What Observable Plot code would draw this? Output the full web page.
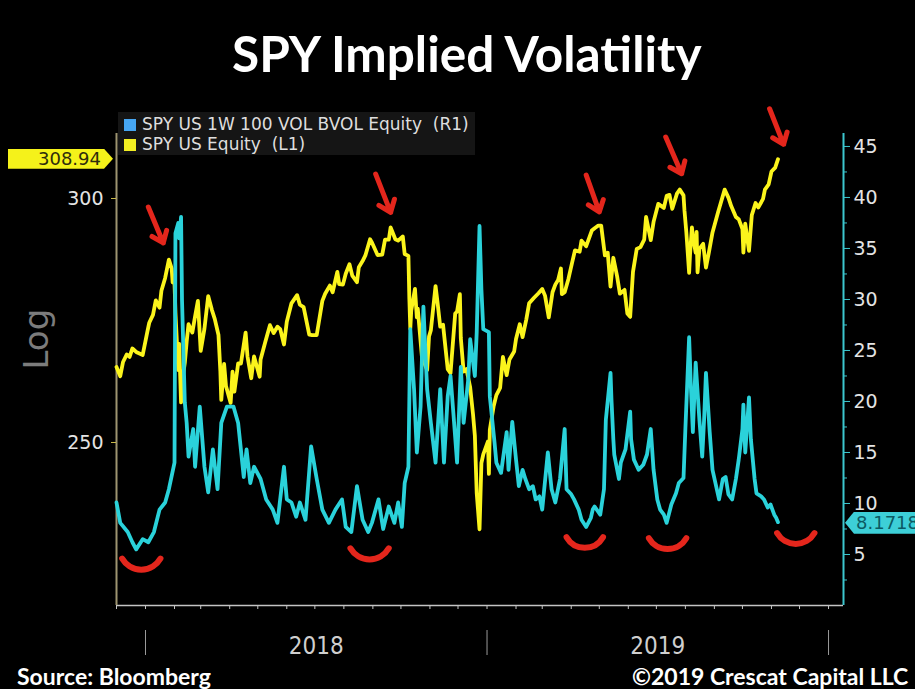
<!DOCTYPE html>
<html><head><meta charset="utf-8">
<script src="https://cdn.jsdelivr.net/npm/d3@7"></script>
<script src="https://cdn.jsdelivr.net/npm/@observablehq/plot@0.6"></script>
<style>
html,body{margin:0;padding:0;background:#000;}
#chart{position:relative;width:915px;height:689px;overflow:hidden;background:#000;}
#chart svg{position:absolute;left:0;top:0;}
.title{position:absolute;left:232px;top:29px;white-space:nowrap;font:700 49.5px Lato;color:#fff;line-height:1;}
.src{position:absolute;top:665px;white-space:nowrap;font:700 23px Lato;color:#fff;line-height:1;}
.legend{position:absolute;left:118px;top:112px;width:357px;height:43px;background:#151515;}
.legend .item{position:absolute;left:6px;height:20px;line-height:20px;font:17px "DejaVu Sans";color:#dedede;white-space:pre;}
.legend .sw{display:inline-block;width:12px;height:12px;margin-right:6px;vertical-align:-1px;}
.tag{position:absolute;font:18px "DejaVu Sans";white-space:nowrap;}
</style></head>
<body><div id="chart"></div>
<script>
// ---------- data ----------
const seriesNames = ["SPY US 1W 100 VOL BVOL Equity  (R1)", "SPY US Equity  (L1)"];
const titleText = "SPY Implied Volatility";
const sourceText = "Source: Bloomberg";
const creditText = "\u00a92019 Crescat Capital LLC";
const spyTicks = [250, 300];
const volTicks = [5, 10, 15, 20, 25, 30, 35, 40, 45];
const volMinorTicks = [2.5, 7.5, 12.5, 17.5, 22.5, 27.5, 32.5, 37.5, 42.5];
const yearLabels = [2018, 2019];

const spySeries = [
["2017-12-01",264.5],["2017-12-05",262.7],["2017-12-08",265.5],["2017-12-12",267.0],["2017-12-15",266.5],["2017-12-18",268.2],["2017-12-22",267.5],["2017-12-29",266.9],
["2018-01-03",271.6],["2018-01-05",273.4],["2018-01-09",275.0],["2018-01-12",278.0],["2018-01-16",276.5],["2018-01-18",280.0],["2018-01-22",282.7],["2018-01-26",286.6],["2018-01-29",284.7],["2018-01-30",281.8],
["2018-02-01",281.6],["2018-02-02",275.5],["2018-02-05",263.9],["2018-02-06",269.1],["2018-02-08",257.6],["2018-02-09",261.5],["2018-02-12",265.3],["2018-02-14",269.6],["2018-02-16",273.1],["2018-02-20",271.4],["2018-02-23",274.7],["2018-02-26",277.9],
["2018-03-01",267.7],["2018-03-05",272.2],["2018-03-09",278.9],["2018-03-13",276.0],["2018-03-16",274.2],["2018-03-20",270.9],["2018-03-22",263.7],["2018-03-23",258.1],["2018-03-26",265.1],["2018-03-28",260.8],
["2018-04-02",257.5],["2018-04-04",263.6],["2018-04-06",259.7],["2018-04-10",265.2],["2018-04-13",265.2],["2018-04-18",271.4],["2018-04-20",266.6],["2018-04-24",262.3],["2018-04-27",266.6],
["2018-05-03",262.6],["2018-05-04",266.0],["2018-05-09",269.5],["2018-05-14",272.9],["2018-05-18",271.3],["2018-05-22",272.6],["2018-05-25",272.1],["2018-05-29",269.0],
["2018-06-01",273.6],["2018-06-06",277.4],["2018-06-12",279.1],["2018-06-15",277.1],["2018-06-19",276.6],["2018-06-25",271.0],["2018-06-28",270.9],
["2018-07-03",270.9],["2018-07-09",277.9],["2018-07-12",279.4],["2018-07-17",281.1],["2018-07-20",279.7],["2018-07-25",284.0],["2018-07-27",281.4],["2018-07-31",281.3],
["2018-08-03",283.6],["2018-08-07",285.6],["2018-08-10",283.2],["2018-08-15",281.8],["2018-08-17",285.0],["2018-08-21",286.3],["2018-08-24",287.5],["2018-08-29",291.0],["2018-08-31",290.3],
["2018-09-06",287.6],["2018-09-11",287.7],["2018-09-14",290.9],["2018-09-18",290.9],["2018-09-20",293.6],["2018-09-25",291.0],["2018-09-28",290.7],
["2018-10-03",291.6],["2018-10-05",287.8],["2018-10-09",287.4],["2018-10-10",278.3],["2018-10-11",272.2],["2018-10-12",275.9],["2018-10-16",280.4],["2018-10-18",274.5],["2018-10-19",276.3],["2018-10-24",265.3],["2018-10-25",270.1],["2018-10-26",265.3],["2018-10-29",263.9],["2018-10-31",270.6],
["2018-11-02",271.9],["2018-11-07",281.0],["2018-11-09",277.8],["2018-11-12",272.6],["2018-11-15",273.0],["2018-11-20",264.1],["2018-11-23",263.3],["2018-11-28",275.3],["2018-11-30",275.7],
["2018-12-03",279.3],["2018-12-04",270.3],["2018-12-07",263.6],["2018-12-10",264.1],["2018-12-14",260.5],["2018-12-17",255.4],["2018-12-19",251.3],["2018-12-21",240.7],["2018-12-24",234.3],["2018-12-26",246.2],["2018-12-28",247.8],
["2019-01-02",250.2],["2019-01-03",244.2],["2019-01-04",252.4],["2019-01-08",256.8],["2019-01-11",259.0],["2019-01-15",260.4],["2019-01-18",266.5],["2019-01-22",262.9],["2019-01-25",266.0],["2019-01-30",267.6],
["2019-02-01",270.1],["2019-02-05",273.1],["2019-02-08",270.5],["2019-02-12",274.1],["2019-02-15",277.4],["2019-02-20",278.5],["2019-02-25",279.5],
["2019-03-01",280.4],["2019-03-04",279.0],["2019-03-08",274.5],["2019-03-12",279.7],["2019-03-15",281.3],["2019-03-18",282.3],["2019-03-21",284.7],["2019-03-22",279.3],["2019-03-25",279.7],["2019-03-29",282.5],
["2019-04-02",286.0],["2019-04-05",288.6],["2019-04-10",288.3],["2019-04-12",290.7],["2019-04-17",289.5],["2019-04-23",292.9],["2019-04-26",293.4],["2019-04-30",294.0],
["2019-05-03",294.0],["2019-05-07",287.5],["2019-05-10",288.1],["2019-05-13",280.9],["2019-05-16",287.0],["2019-05-20",283.1],["2019-05-23",279.4],["2019-05-28",280.2],["2019-05-31",275.3],
["2019-06-03",274.6],["2019-06-06",284.0],["2019-06-10",288.9],["2019-06-14",289.3],["2019-06-18",290.9],["2019-06-20",295.9],["2019-06-25",290.8],["2019-06-28",294.8],
["2019-07-03",298.8],["2019-07-09",297.9],["2019-07-12",300.6],["2019-07-15",300.8],["2019-07-18",297.7],["2019-07-23",301.1],["2019-07-26",302.0],["2019-07-30",300.7],["2019-07-31",297.4],
["2019-08-02",292.6],["2019-08-05",283.8],["2019-08-06",287.8],["2019-08-08",293.6],["2019-08-09",291.6],["2019-08-12",288.1],["2019-08-13",292.6],["2019-08-14",283.9],["2019-08-16",288.9],["2019-08-20",290.0],["2019-08-23",284.9],["2019-08-26",288.0],["2019-08-30",292.5],
["2019-09-05",297.0],["2019-09-12",302.0],["2019-09-16",300.2],["2019-09-19",298.3],["2019-09-24",295.9],["2019-09-27",295.4],
["2019-10-01",293.2],["2019-10-02",288.1],["2019-10-04",294.4],["2019-10-08",288.5],["2019-10-11",296.3],["2019-10-15",299.0],["2019-10-18",298.0],["2019-10-23",299.9],["2019-10-25",302.0],["2019-10-29",303.2],
["2019-11-01",306.1],["2019-11-05",307.0],["2019-11-08",308.94]
];

const volSeries = [
["2017-12-01",10.1],["2017-12-05",8.1],["2017-12-13",7.2],["2017-12-18",6.2],["2017-12-22",5.5],["2017-12-29",6.5],
["2018-01-04",6.2],["2018-01-10",7.2],["2018-01-16",9.4],["2018-01-22",10.1],["2018-01-26",11.4],
["2018-02-01",14.0],["2018-02-02",36.5],["2018-02-05",37.5],["2018-02-06",36.0],["2018-02-07",36.9],["2018-02-08",38.1],["2018-02-09",30.0],["2018-02-12",19.9],["2018-02-14",17.9],["2018-02-16",14.6],["2018-02-21",17.3],["2018-02-23",13.6],["2018-02-28",19.5],
["2018-03-05",13.6],["2018-03-09",11.1],["2018-03-14",15.3],["2018-03-19",11.4],["2018-03-23",17.9],["2018-03-29",19.5],
["2018-04-05",19.5],["2018-04-10",17.9],["2018-04-16",12.6],["2018-04-19",15.3],["2018-04-23",12.0],["2018-04-27",13.6],
["2018-05-04",12.4],["2018-05-10",10.4],["2018-05-17",9.4],["2018-05-22",8.1],["2018-05-29",13.6],
["2018-06-01",10.4],["2018-06-06",10.1],["2018-06-11",8.7],["2018-06-15",10.1],["2018-06-21",8.4],["2018-06-27",15.6],
["2018-07-03",12.4],["2018-07-09",9.4],["2018-07-16",8.1],["2018-07-23",9.4],["2018-07-30",10.4],
["2018-08-03",7.7],["2018-08-09",7.2],["2018-08-15",11.7],["2018-08-21",8.4],["2018-08-27",7.2],["2018-08-31",8.1],
["2018-09-07",10.4],["2018-09-12",7.5],["2018-09-18",9.7],["2018-09-24",8.1],["2018-09-28",10.1],
["2018-10-02",7.7],["2018-10-05",12.0],["2018-10-09",13.6],["2018-10-11",27.1],["2018-10-15",21.2],["2018-10-18",15.0],["2018-10-22",19.5],["2018-10-25",29.3],["2018-10-29",21.2],
["2018-11-02",17.9],["2018-11-07",14.0],["2018-11-12",21.2],["2018-11-16",14.0],["2018-11-20",20.5],["2018-11-23",22.5],["2018-11-26",18.9],["2018-11-30",14.0],
["2018-12-04",23.4],["2018-12-07",17.9],["2018-12-12",22.2],["2018-12-14",26.1],["2018-12-19",22.5],["2018-12-21",26.8],["2018-12-24",37.2],["2018-12-26",31.0],["2018-12-28",27.1],
["2019-01-03",26.8],["2019-01-04",20.5],["2019-01-09",16.0],["2019-01-11",14.0],["2019-01-16",13.0],["2019-01-22",17.0],["2019-01-24",13.3],["2019-01-28",18.0],
["2019-02-01",14.3],["2019-02-04",11.7],["2019-02-08",13.3],["2019-02-11",12.4],["2019-02-15",11.4],["2019-02-19",11.7],["2019-02-22",10.4],["2019-02-26",10.7],
["2019-03-01",9.4],["2019-03-07",15.0],["2019-03-11",11.4],["2019-03-15",10.1],["2019-03-20",12.4],["2019-03-25",17.3],["2019-03-27",11.4],
["2019-04-01",10.9],["2019-04-04",10.4],["2019-04-09",9.4],["2019-04-12",8.4],["2019-04-17",7.7],["2019-04-22",8.6],["2019-04-24",9.4],["2019-04-26",9.7],
["2019-05-02",8.9],["2019-05-06",11.4],["2019-05-08",18.2],["2019-05-13",22.8],["2019-05-14",20.2],["2019-05-16",16.3],["2019-05-17",14.8],["2019-05-22",12.4],["2019-05-24",14.0],["2019-05-29",15.3],
["2019-06-03",19.0],["2019-06-04",16.3],["2019-06-07",14.3],["2019-06-12",13.3],["2019-06-17",13.8],["2019-06-21",14.8],["2019-06-25",17.3],["2019-06-28",13.3],
["2019-07-02",10.4],["2019-07-05",9.4],["2019-07-09",8.9],["2019-07-12",8.1],["2019-07-17",9.9],["2019-07-22",11.0],["2019-07-25",12.0],["2019-07-30",12.5],
["2019-08-01",17.3],["2019-08-05",26.3],["2019-08-07",21.2],["2019-08-09",17.0],["2019-08-12",23.8],["2019-08-16",18.2],["2019-08-19",14.6],["2019-08-21",18.2],["2019-08-23",22.8],["2019-08-27",17.0],["2019-08-30",13.3],
["2019-09-06",10.4],["2019-09-10",12.4],["2019-09-13",12.6],["2019-09-16",10.9],["2019-09-20",10.4],["2019-09-24",12.4],["2019-09-27",14.3],
["2019-10-01",17.3],["2019-10-02",19.7],["2019-10-04",15.0],["2019-10-08",20.4],["2019-10-10",16.3],["2019-10-14",12.4],["2019-10-16",11.0],["2019-10-21",10.7],["2019-10-24",10.4],["2019-10-28",9.6],["2019-10-31",9.9],
["2019-11-04",8.9],["2019-11-06",8.6],["2019-11-08",8.1718]
];

// annotation arrows over SPY peaks: [tail date, tail price, tip date, tip price]
const peakArrows = [
["2018-01-04",298.1,"2018-01-20",290.2],
["2018-09-04",305.5,"2018-09-20",296.9],
["2019-04-17",305.3,"2019-05-01",297.0],
["2019-07-11",314.1,"2019-07-28",305.6],
["2019-10-30",320.8,"2019-11-14",312.4]
];
// annotation arcs under volatility troughs: [start date, end date, vol level]
const troughArcs = [
["2017-12-07","2018-01-17",4.6],
["2018-08-08","2018-09-18",5.6],
["2019-03-27","2019-05-05",6.7],
["2019-06-23","2019-08-02",6.6],
["2019-11-07","2019-12-17",7.1]
];

// ---------- layout ----------
const W = 915, H = 689;
const M = {marginLeft: 116, marginRight: 72, marginTop: 133, marginBottom: 84};
const xDomain = [new Date("2017-12-01"), new Date("2020-01-17")];
const spyDomain = [221.33, 314.93];
const volDomain = [0, 46.27];
const C = {spy: "#fbf41c", vol: "#2ad2da", red: "#e4261c", axisL: "#9d9470", axisR: "#3cc6ce", axisB: "#c4c4c4", label: "#e4e4e4"};
const FONT = "DejaVu Sans";

const spyData = spySeries.map(([d, v]) => ({date: new Date(d), value: v}));
const volData = volSeries.map(([d, v]) => ({date: new Date(d), value: v}));
const arrows = peakArrows.map(([d1, v1, d2, v2]) => ({x1: new Date(d1), y1: v1, x2: new Date(d2), y2: v2}));
const arcs = troughArcs.map(([d1, d2, v]) => ({x1: new Date(d1), x2: new Date(d2), y: v}));
const monthTicks = d3.utcMonth.range(xDomain[0], xDomain[1]);
const yearStarts = d3.utcYear.range(d3.utcYear.ceil(xDomain[0]), xDomain[1]);
const yearMids = yearLabels.map(y => new Date((Date.UTC(y, 0, 1) + Date.UTC(y + 1, 0, 1)) / 2));

const base = {width: W, height: H, ...M,
  style: {background: "transparent", color: C.label, fontFamily: FONT, overflow: "visible"}};

const spyPlot = Plot.plot({
  ...base,
  x: {type: "utc", domain: xDomain, axis: null},
  y: {type: "log", domain: spyDomain, axis: null},
  marks: [
    Plot.ruleY([spyDomain[0]], {stroke: C.axisB, strokeWidth: 1.5}),
    Plot.ruleX([xDomain[0]], {stroke: C.axisL, strokeWidth: 2}),
    Plot.axisX({ticks: monthTicks, tickSize: 4, tickFormat: () => "", color: C.axisB, label: null}),
    Plot.axisX({ticks: yearStarts, tickSize: 50, tickFormat: () => "", color: "#9a9a9a", strokeDasharray: "0 25 25", label: null}),
    Plot.axisX({ticks: yearMids, tickSize: 0, tickPadding: 31, tickFormat: d => String(d.getUTCFullYear()), color: "#cfcfcf",
      fontSize: 24, fontFamily: "'Liberation Sans Narrow', 'DejaVu Sans Condensed', 'DejaVu Sans', sans-serif", label: null}),
    Plot.axisY({ticks: spyTicks, tickSize: 5, tickFormat: () => "", color: "#cbbb4a", label: null}),
    Plot.axisY({ticks: spyTicks, tickSize: 0, tickPadding: 13, color: C.label, fontSize: 19, label: null}),
    Plot.text(["Log"], {frameAnchor: "left", text: d => d, rotate: -90, dx: -79, fontSize: 34, fill: "#7c7c7c"}),
    Plot.line(spyData, {x: "date", y: "value", stroke: C.spy, strokeWidth: 3.8}),
    Plot.arrow(arrows, {x1: "x1", y1: "y1", x2: "x2", y2: "y2", stroke: C.red, strokeWidth: 5, headLength: 11, headAngle: 75})
  ]
});

const volPlot = Plot.plot({
  ...base,
  x: {type: "utc", domain: xDomain, axis: null},
  y: {type: "linear", domain: volDomain, axis: null},
  marks: [
    Plot.ruleX([xDomain[1]], {stroke: C.axisR, strokeWidth: 2}),
    Plot.axisY({anchor: "right", ticks: volMinorTicks, tickSize: 3, tickFormat: () => "", color: C.axisR, label: null}),
    Plot.axisY({anchor: "right", ticks: volTicks, tickSize: 6, tickFormat: () => "", color: C.axisR, label: null}),
    Plot.axisY({anchor: "right", ticks: volTicks, tickSize: 0, tickPadding: 10, color: C.label, fontSize: 19, label: null}),
    Plot.line(volData, {x: "date", y: "value", stroke: C.vol, strokeWidth: 3.8}),
    Plot.arrow(arcs, {x1: "x1", x2: "x2", y1: "y", y2: "y", bend: -60, headLength: 0, stroke: C.red, strokeWidth: 6, strokeLinecap: "round"})
  ]
});

const chart = document.getElementById("chart");
chart.append(spyPlot, volPlot);

function addDiv(cls, text, css) {
  const d = document.createElement("div");
  d.className = cls; d.textContent = text; Object.assign(d.style, css); chart.append(d); return d;
}
addDiv("title", titleText, {});
addDiv("src", sourceText, {left: "17px"});
addDiv("src", creditText, {left: "632px"});

// legend
const lg = document.createElement("div"); lg.className = "legend"; chart.append(lg);
[[seriesNames[0], "#46a6f2"], [seriesNames[1], "#f2ee22"]].forEach(([name, col], i) => {
  const it = document.createElement("div"); it.className = "item"; it.style.top = (2 + i * 20) + "px";
  const sw = document.createElement("span"); sw.className = "sw"; sw.style.background = col;
  it.append(sw, document.createTextNode(name)); lg.append(it);
});

// last-value tags, placed by the plots' own scales
const lastSpy = spyData[spyData.length - 1].value;
const lastVol = volData[volData.length - 1].value;
const ySpy = spyPlot.scale("y").apply(lastSpy);
const yVol = volPlot.scale("y").apply(lastVol);
addDiv("tag", lastSpy.toFixed(2), {left: "8px", top: (ySpy - 10) + "px", width: "105px", height: "20px", lineHeight: "20px",
  background: "#f5f21a", color: "#2e2c0c", textAlign: "right", boxSizing: "border-box", paddingRight: "12px",
  clipPath: "polygon(0 0, calc(100% - 9px) 0, 100% 50%, calc(100% - 9px) 100%, 0 100%)"});
addDiv("tag", lastVol.toFixed(4), {left: "845px", top: (yVol - 10) + "px", width: "80px", height: "22px", lineHeight: "22px",
  background: "#3dcfd7", color: "#0b5a63", boxSizing: "border-box", paddingLeft: "11px",
  clipPath: "polygon(0 50%, 9px 0, 100% 0, 100% 100%, 9px 100%)"});
</script></body></html>
